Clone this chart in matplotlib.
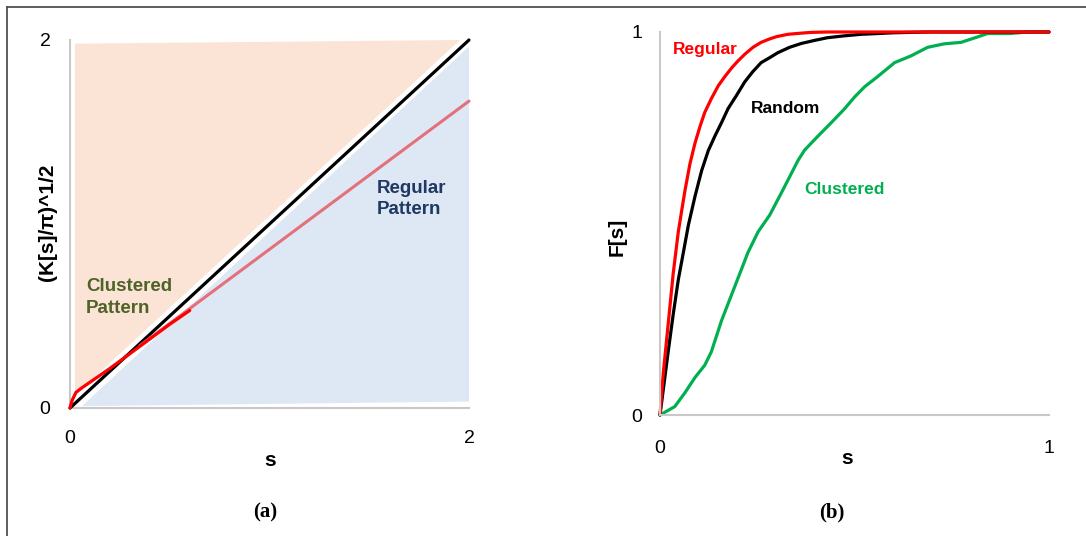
import matplotlib.pyplot as plt
from matplotlib.lines import Line2D

# Panel (a): L-function, (K[s]/pi)^1/2 against s
diag_s = [0, 2]
diag_L = [0, 2]
obs_s = [0, 0.01, 0.03, 0.06, 0.1, 0.2, 0.3, 0.4, 0.5, 0.6]
obs_L = [0, 0.04, 0.085, 0.11, 0.14, 0.215, 0.295, 0.375, 0.455, 0.53]
fit_s = [0.35, 2.0]
fit_L = [0.339, 1.668]
clustered_zone = [(0.025, 0.07), (0.025, 1.98), (1.955, 2.0)]
regular_zone = [(0.06, 0.01), (2.0, 0.035), (2.0, 1.965)]

# Panel (b): nearest-neighbour distribution F[s]
reg_s = [0, 0.0085, 0.021, 0.034, 0.047, 0.056, 0.064, 0.077, 0.09, 0.103, 0.115, 0.132, 0.15,
         0.167, 0.184, 0.20, 0.218, 0.239, 0.26, 0.282, 0.30, 0.329, 0.363, 0.389, 0.43, 1.0]
reg_F = [0, 0.11, 0.237, 0.37, 0.478, 0.535, 0.585, 0.656, 0.71, 0.754, 0.79, 0.826, 0.86,
         0.884, 0.906, 0.924, 0.942, 0.96, 0.973, 0.982, 0.988, 0.994, 0.997, 0.999, 1.0, 1.0]
rnd_s = [0, 0.021, 0.034, 0.047, 0.06, 0.073, 0.09, 0.107, 0.124, 0.141, 0.158, 0.175, 0.197,
         0.218, 0.239, 0.26, 0.282, 0.303, 0.333, 0.363, 0.397, 0.43, 0.474, 0.517, 0.56, 0.60,
         0.69, 1.0]
rnd_F = [0, 0.165, 0.263, 0.353, 0.424, 0.496, 0.571, 0.638, 0.69, 0.728, 0.763, 0.80, 0.835,
         0.87, 0.897, 0.92, 0.933, 0.946, 0.96, 0.97, 0.978, 0.985, 0.99, 0.994, 0.996, 0.998,
         1.0, 1.0]
clu_s = [0, 0.038, 0.064, 0.09, 0.115, 0.132, 0.158, 0.192, 0.226, 0.252, 0.282, 0.312, 0.355,
         0.372, 0.406, 0.44, 0.474, 0.5, 0.526, 0.56, 0.603, 0.645, 0.688, 0.73, 0.774, 0.816,
         0.842, 0.9, 0.944, 1.0]
clu_F = [0, 0.022, 0.058, 0.098, 0.13, 0.165, 0.246, 0.335, 0.424, 0.478, 0.522, 0.58, 0.665,
         0.692, 0.728, 0.763, 0.799, 0.83, 0.857, 0.884, 0.92, 0.9375, 0.96, 0.969, 0.973, 0.987,
         0.996, 0.996, 1.0, 1.0]

plt.rcParams['font.family'] = ['Liberation Sans', 'DejaVu Sans']
W, H = 1086, 536
fig = plt.figure(figsize=(W / 100, H / 100), dpi=100)


def px_axes(x0, y0, x1, y1):
    """ Axes placed from pixel corners (left, top, right, bottom) """
    return fig.add_axes([x0 / W, 1 - y1 / H, (x1 - x0) / W, (y1 - y0) / H])


def style(ax, ticks, xpad, ypad):
    for side in ['top', 'right']:
        ax.spines[side].set_visible(False)
    for side in ['left', 'bottom']:
        ax.spines[side].set_color('#c8c8c8')
        ax.spines[side].set_linewidth(1.5)
    ax.set_xticks(ticks)
    ax.set_yticks(ticks)
    ax.set_xticklabels([str(t) for t in ticks])
    ax.set_yticklabels([str(t) for t in ticks])
    ax.tick_params(axis='x', length=0, pad=xpad, labelsize=14)
    ax.tick_params(axis='y', length=0, pad=ypad, labelsize=14)
    ax.set_facecolor('none')


line_kw = dict(lw=2.3, clip_on=False, solid_joinstyle='round', solid_capstyle='round')

# (a)
ax1 = px_axes(70, 40, 469, 408)
ax1.set_xlim(0, 2)
ax1.set_ylim(0, 2)
ax1.fill(*zip(*clustered_zone), color='#fbe4d6', lw=0, clip_on=False)
ax1.fill(*zip(*regular_zone), color='#dee8f4', lw=0, clip_on=False)
ax1.plot(diag_s, diag_L, color='black', zorder=3, **line_kw)
ax1.plot(fit_s, fit_L, color='#e3707b', zorder=3, **dict(line_kw, lw=2.2))
ax1.plot(obs_s, obs_L, color='#ff0000', zorder=4, **line_kw)
style(ax1, [0, 2], 16, 14)
ax1.text(0.08, 0.60, 'Clustered\nPattern', color='#4f6228', fontsize=13.5,
         fontweight='bold', va='center', ha='left', linespacing=1.35)
ax1.text(1.54, 1.135, 'Regular\nPattern', color='#1f3864', fontsize=13.5,
         fontweight='bold', va='center', ha='left', linespacing=1.35)

# (b)
ax2 = px_axes(660, 32, 1049, 415)
ax2.set_xlim(0, 1)
ax2.set_ylim(0, 1)
ax2.plot(clu_s, clu_F, color='#00b050', **line_kw)
ax2.plot(rnd_s, rnd_F, color='black', **line_kw)
ax2.plot(reg_s, reg_F, color='#ff0000', **line_kw)
style(ax2, [0, 1], 18, 13)
ax2.text(0.032, 0.955, 'Regular', color='#ff0000', fontsize=12.5, fontweight='bold', va='center')
ax2.text(0.233, 0.8, 'Random', color='black', fontsize=12.5, fontweight='bold', va='center')
ax2.text(0.37, 0.59, 'Clustered', color='#00b050', fontsize=12.5, fontweight='bold', va='center')

# axis titles and panel tags
fig.text(270 / W, 1 - 460 / H, 's', fontsize=15, fontweight='bold', ha='center', va='center')
fig.text(847 / W, 1 - 458 / H, 's', fontsize=15, fontweight='bold', ha='center', va='center')
fig.text(47 / W, 1 - 222 / H, '(K[s]/π)^1/2', fontsize=15, fontweight='bold',
         rotation=90, ha='center', va='center')
fig.text(617 / W, 1 - 237 / H, 'F[s]', fontsize=15, fontweight='bold',
         rotation=90, ha='center', va='center')
fig.text(265 / W, 1 - 512 / H, '(a)', fontsize=15, fontweight='bold',
         family='Liberation Serif', ha='center', va='center')
fig.text(832 / W, 1 - 512 / H, '(b)', fontsize=15, fontweight='bold',
         family='Liberation Serif', ha='center', va='center')

# frame lines along the top and left edge
fig.add_artist(Line2D([6.5 / W, 1], [1 - 6.5 / H] * 2, color='#505050', lw=1.3))
fig.add_artist(Line2D([6.5 / W] * 2, [0, 1 - 6.5 / H], color='#505050', lw=1.3))

fig.savefig('out.png', dpi=100)
